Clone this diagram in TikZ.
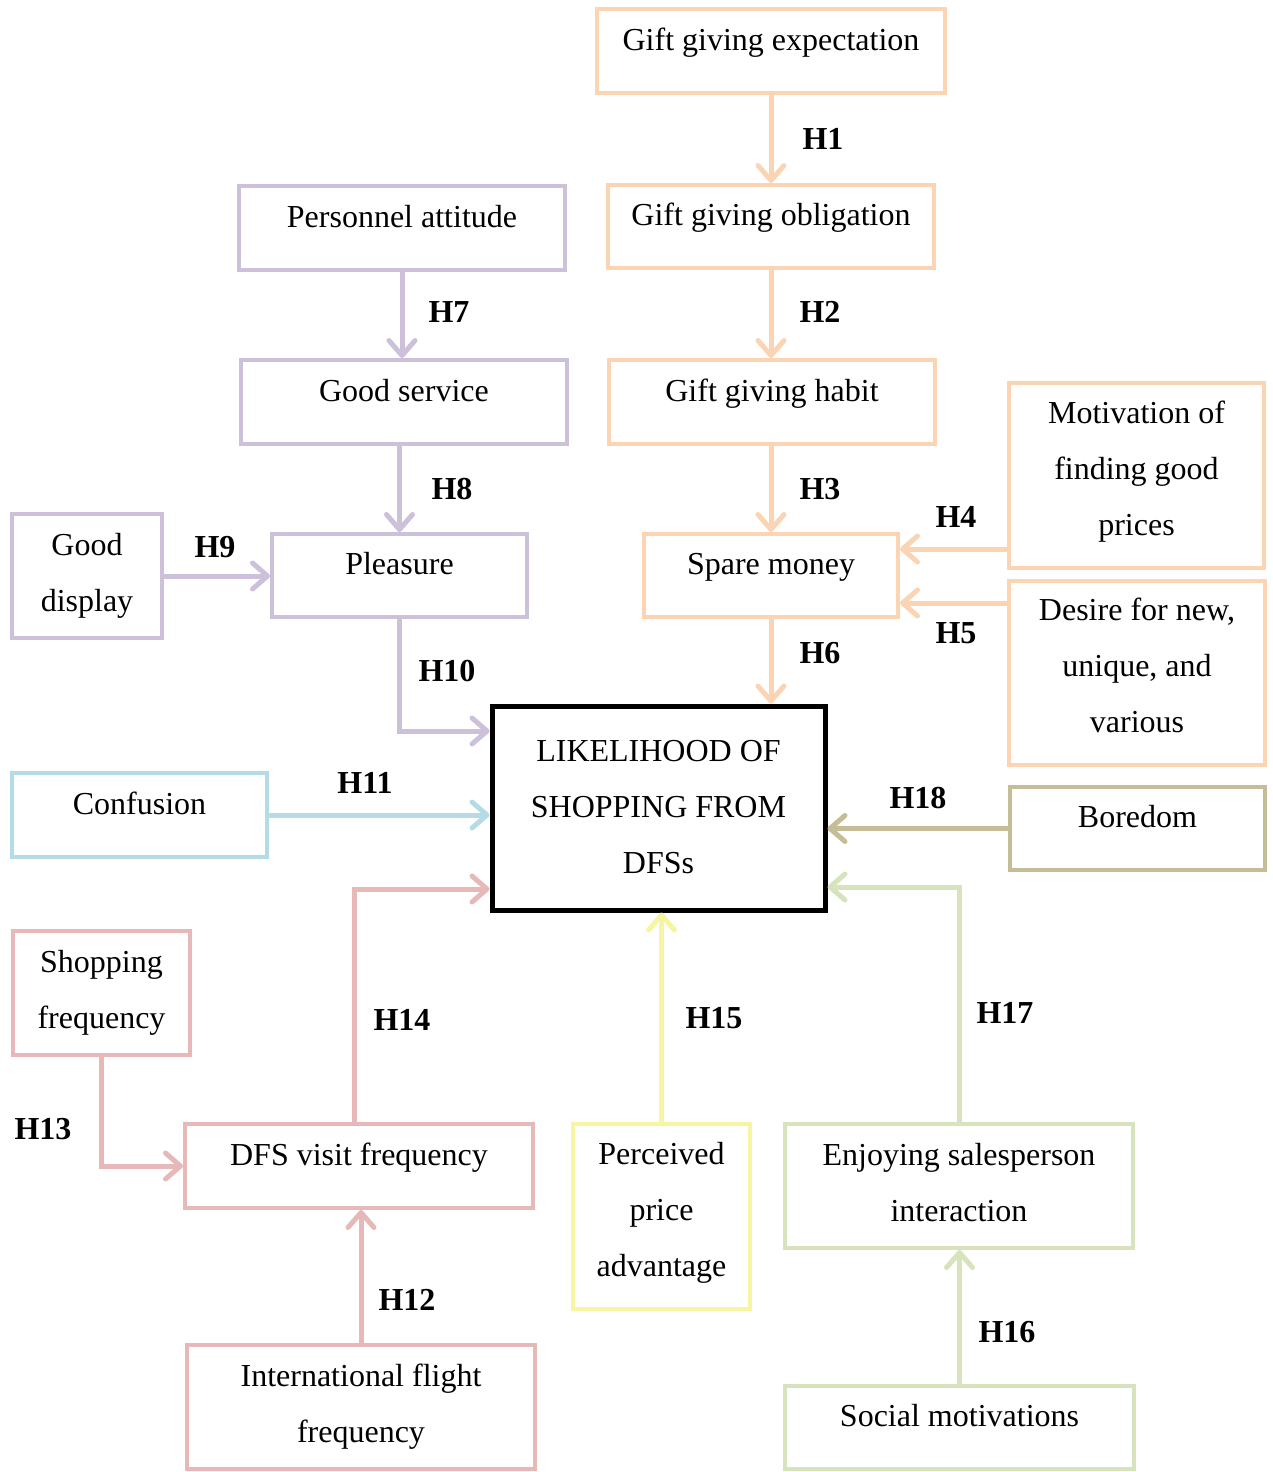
\documentclass[tikz,border=0pt]{standalone}
\usepackage{fontspec}
\setmainfont{Liberation Serif}
\usetikzlibrary{arrows.meta,calc}
\definecolor{Peach}{HTML}{FBD4B4}
\definecolor{Lilac}{HTML}{CCC0DA}
\definecolor{Sky}{HTML}{B4DCE6}
\definecolor{Rose}{HTML}{E6B9B8}
\definecolor{Lemon}{HTML}{F6F5A2}
\definecolor{Olive}{HTML}{D7E3BC}
\definecolor{Tan}{HTML}{C4BD97}

\tikzset{
  factor/.style={draw,line width=4pt,align=center,inner sep=0pt,text depth=24pt,
                 font=\fontsize{32}{56}\selectfont},
  twoline/.style={text depth=8pt},
  threeline/.style={text depth=15pt},
  hyp/.style={font=\fontsize{32}{36}\selectfont\bfseries,inner sep=0pt},
  link/.style={line width=5pt,-{Straight Barb[round,length=15pt,width=26pt]}},
}

\begin{document}
\begin{tikzpicture}[x=1pt,y=-1pt]
        \useasboundingbox (0,0) rectangle (1272,1472);
        % gift giving chain
        \node[factor,draw=Peach,minimum width=348pt,minimum height=84pt] (expect) at (771,51) {Gift giving expectation};
        \node[factor,draw=Peach,minimum width=326pt,minimum height=83pt] (oblig) at (771,226.5) {Gift giving obligation};
        \node[factor,draw=Peach,minimum width=326pt,minimum height=84pt] (habit) at (772,402) {Gift giving habit};
        \node[factor,draw=Peach,minimum width=254pt,minimum height=83pt] (spare) at (771,575.5) {Spare money};
        \node[factor,threeline,draw=Peach,minimum width=255pt,minimum height=185pt] (motiv) at (1136.5,475.5)
              {Motivation of\\finding good\\prices};
        \node[factor,threeline,draw=Peach,minimum width=256pt,minimum height=184pt] (desire) at (1137,673)
              {Desire for new,\\unique, and\\various};
        % service chain
        \node[factor,draw=Lilac,minimum width=326pt,minimum height=84pt] (staff) at (402,228) {Personnel attitude};
        \node[factor,draw=Lilac,minimum width=326pt,minimum height=84pt] (service) at (404,402) {Good service};
        \node[factor,draw=Lilac,minimum width=255pt,minimum height=83pt] (pleas) at (399.5,575.5) {Pleasure};
        \node[factor,twoline,draw=Lilac,minimum width=150pt,minimum height=124pt] (disp) at (87,576) {Good\\display};
        % outcome
        \node[factor,draw=black,line width=5pt,text depth=3pt,minimum width=333pt,minimum height=204pt] (main) at (658.5,808)
              {LIKELIHOOD OF\\SHOPPING FROM\\DFSs};
        \node[factor,draw=Sky,minimum width=255pt,minimum height=84pt] (conf) at (139.5,815) {Confusion};
        \node[factor,draw=Tan,minimum width=255pt,minimum height=83pt] (bored) at (1137.5,828.5) {Boredom};
        % lower factors
        \node[factor,twoline,draw=Rose,minimum width=177pt,minimum height=124pt] (shop) at (101.5,993) {Shopping\\frequency};
        \node[factor,draw=Rose,minimum width=348pt,minimum height=84pt] (visit) at (359,1166) {DFS visit frequency};
        \node[factor,twoline,draw=Rose,minimum width=348pt,minimum height=124pt] (intl) at (361,1407)
              {International flight\\frequency};
        \node[factor,threeline,draw=Lemon,minimum width=177pt,minimum height=185pt] (price) at (661.5,1216.5)
              {Perceived\\price\\advantage};
        \node[factor,twoline,draw=Olive,minimum width=348pt,minimum height=124pt] (enjoy) at (959,1186)
              {Enjoying salesperson\\interaction};
        \node[factor,draw=Olive,minimum width=349pt,minimum height=83pt] (social) at (959.5,1427.5) {Social motivations};

        % connector ends
        \coordinate (m4) at ($(motiv.west)+(0,73.5)$);
        \coordinate (m5) at ($(desire.west)+(0,-70)$);
        \coordinate (m10) at ($(main.west)+(0,-77)$);
        \coordinate (m14) at ($(main.west)+(0,81)$);
        \coordinate (m17) at ($(main.east)+(0,79)$);
        \coordinate (v14) at ($(visit.north)+(-5,0)$);

        % connectors
        \draw[link,Peach] (expect.south) -- (oblig.north);
        \draw[link,Peach] (oblig.south) -- (oblig.south |- habit.north);
        \draw[link,Peach] (habit.south -| spare.north) -- (spare.north);
        \draw[link,Peach] (m4) -- (m4 -| spare.east);
        \draw[link,Peach] (m5) -- (m5 -| spare.east);
        \draw[link,Peach] (spare.south) -- (spare.south |- main.north);
        \draw[link,Lilac] (staff.south) -- (staff.south |- service.north);
        \draw[link,Lilac] (service.south -| pleas.north) -- (pleas.north);
        \draw[link,Lilac] (disp.east) -- (disp.east -| pleas.west);
        \draw[link,Lilac] (pleas.south) |- (m10);
        \draw[link,Sky] (conf.east) -- (conf.east -| main.west);
        \draw[link,Tan] (bored.west) -- (bored.west -| main.east);
        \draw[link,Rose] (v14) |- (m14);
        \draw[link,Rose] (shop.south) |- (visit.west);
        \draw[link,Rose] (intl.north) -- (intl.north |- visit.south);
        \draw[link,Lemon] (price.north) -- (price.north |- main.south);
        \draw[link,Olive] (social.north) -- (social.north |- enjoy.south);
        \draw[link,Olive] (enjoy.north) |- (m17);

        % hypothesis labels
        \node[hyp] (h1) at (823,139) {H1};
        \node[hyp] (h2) at (820,312) {H2};
        \node[hyp] (h3) at (820,489) {H3};
        \node[hyp] (h4) at (956,517) {H4};
        \node[hyp] (h5) at (956,633) {H5};
        \node[hyp] (h6) at (820,653) {H6};
        \node[hyp] (h7) at (449,312) {H7};
        \node[hyp] (h8) at (452,489) {H8};
        \node[hyp] (h9) at (215,547) {H9};
        \node[hyp] (h10) at (447,671) {H10};
        \node[hyp] (h11) at (365,783) {H11};
        \node[hyp] (h12) at (407,1300) {H12};
        \node[hyp] (h13) at (43,1129) {H13};
        \node[hyp] (h14) at (402,1020) {H14};
        \node[hyp] (h15) at (714,1018) {H15};
        \node[hyp] (h16) at (1007,1332) {H16};
        \node[hyp] (h17) at (1005,1013) {H17};
        \node[hyp] (h18) at (918,798) {H18};
\end{tikzpicture}
\end{document}
